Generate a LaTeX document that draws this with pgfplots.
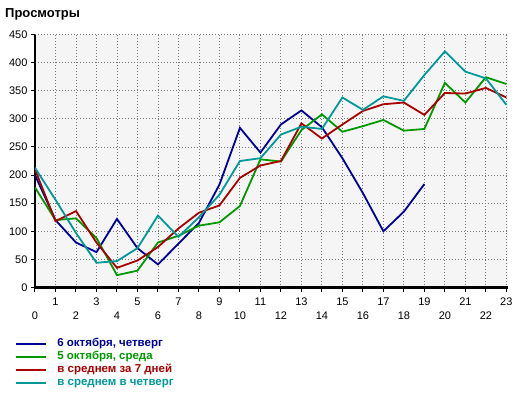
\documentclass[border=0pt]{standalone}
\usepackage{pgfplots}
\pgfplotsset{compat=1.18}
\usepackage{fontspec}
\setmainfont{Liberation Sans}
\definecolor{cblue}{RGB}{0,0,153}
\definecolor{cgreen}{RGB}{0,153,0}
\definecolor{cred}{RGB}{170,0,0}
\definecolor{cteal}{RGB}{0,153,153}
\definecolor{bgc}{RGB}{245,245,245}
\definecolor{gridc}{RGB}{120,120,120}
\begin{document}
\begin{tikzpicture}
\useasboundingbox (0pt,-392pt) rectangle (520pt,0pt);
\node[anchor=base west, inner sep=0pt, font=\bfseries\fontsize{13}{15}\selectfont] at (5pt,-17pt) {Просмотры};
\begin{axis}[
  at={(35pt,-287.5pt)}, anchor=south west,
  scale only axis, width=473pt, height=253pt,
  xmin=0, xmax=23.08, ymin=0, ymax=450,
  axis x line=bottom, axis y line=left,
  axis line style={line width=2.5pt, -},
  axis background/.style={fill=bgc},
  xtick={0,...,23}, ytick={0,50,...,450},
  tick align=outside, major tick length=4pt,
  tick style={black, line width=1pt},
  grid=major,
  major grid style={gridc, line width=0.9pt, dash pattern=on 0.9pt off 2.1pt},
  /pgf/number format/assume math mode=true,
  ticklabel style={font=\fontsize{11}{13}\selectfont},
  xticklabel style={yshift=-3pt},
  xticklabel={\pgfmathtruncatemacro\k{\tick}\ifodd\k\relax\k\else\raisebox{-13.5pt}[\height][\depth]{\k}\fi},
  legend style={at={(-0.0423,-0.1957)}, anchor=north west, draw=none, fill=none,
    inner sep=0pt, row sep=0pt,
    font=\bfseries\fontsize{11.5}{13}\selectfont,
    nodes={inner sep=0pt, text height=9pt, text depth=4pt},
    /tikz/every odd column/.append style={column sep=10pt}},
  legend cell align=left,
  legend image code/.code={\draw[#1, line width=2.2pt] (0pt,0pt) -- (30pt,0pt);},
]
\addplot[cblue, line width=1.8pt] coordinates {(0,200)(1,120)(2,80)(3,63)(4,122)(5,70)(6,41)(7,78)(8,115)(9,183)(10,284)(11,240)(12,290)(13,315)(14,285)(15,230)(16,168)(17,100)(18,135)(19,184)};
\addlegendentry{\textcolor{cblue}{6 октября, четверг}}
\addplot[cgreen, line width=1.8pt] coordinates {(0,178)(1,120)(2,123)(3,88)(4,22)(5,30)(6,80)(7,92)(8,110)(9,116)(10,145)(11,228)(12,224)(13,280)(14,308)(15,277)(16,287)(17,298)(18,279)(19,282)(20,364)(21,329)(22,374)(23,362)};
\addlegendentry{\textcolor{cgreen}{5 октября, среда}}
\addplot[cred, line width=1.8pt] coordinates {(0,210)(1,118)(2,136)(3,80)(4,35)(5,48)(6,72)(7,105)(8,133)(9,146)(10,195)(11,217)(12,225)(13,292)(14,265)(15,290)(16,314)(17,326)(18,329)(19,307)(20,346)(21,345)(22,355)(23,338)};
\addlegendentry{\textcolor{cred}{в среднем за 7 дней}}
\addplot[cteal, line width=1.8pt] coordinates {(0,213)(1,156)(2,97)(3,44)(4,47)(5,70)(6,128)(7,90)(8,125)(9,165)(10,225)(11,230)(12,272)(13,286)(14,282)(15,338)(16,316)(17,340)(18,332)(19,378)(20,420)(21,384)(22,372)(23,325)};
\addlegendentry{\textcolor{cteal}{в среднем в четверг}}
\end{axis}
\end{tikzpicture}
\end{document}
